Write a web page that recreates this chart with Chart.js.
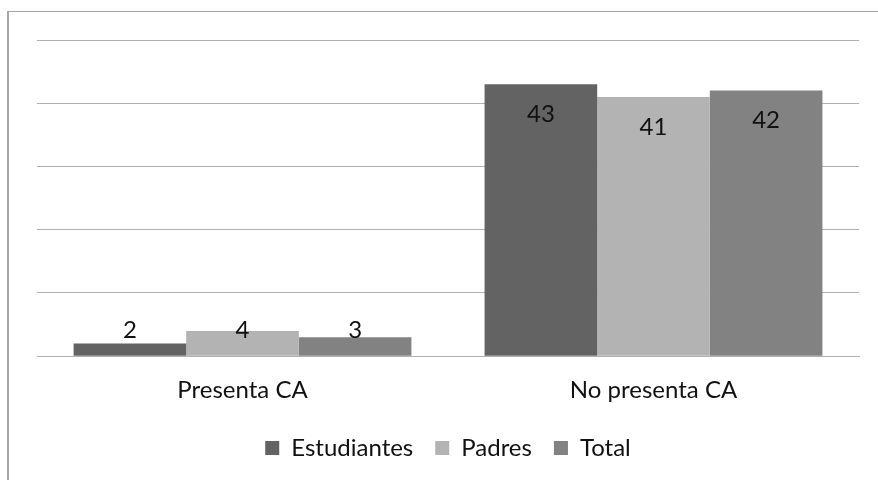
<!DOCTYPE html>
<html>
<head>
<meta charset="utf-8">
<script src="https://cdn.jsdelivr.net/npm/chart.js@4/dist/chart.umd.min.js"></script>
<style>
  html, body { margin: 0; padding: 0; background: #fff; }
  #wrap { position: relative; width: 878px; height: 480px; overflow: hidden; }
  #frame { position: absolute; left: 7px; top: 11px; width: 900px; height: 500px;
           border-left: 2px solid #a6a6a6; border-top: 1px solid #a6a6a6; }
  canvas { position: absolute; left: 0; top: 0; }
</style>
</head>
<body>
<div id="wrap">
  <div id="frame"></div>
  <canvas id="c" width="878" height="480"></canvas>
</div>
<script>
const categories = ['Presenta CA', 'No presenta CA'];
const seriesNames = ['Estudiantes', 'Padres', 'Total'];
const estudiantes = [2, 43];
const padres = [4, 41];
const total = [3, 42];
const seriesColors = ['#636363', '#b3b3b3', '#828282'];

const FONT = 'Lato, "Open Sans", sans-serif';
const FONT_SIZE = 24;

// value labels: inside the top of tall bars, held just above the baseline on short ones
const valueLabels = {
  id: 'valueLabels',
  afterDatasetsDraw(chart) {
    const ctx = chart.ctx;
    ctx.save();
    ctx.font = FONT_SIZE + 'px ' + FONT;
    ctx.fillStyle = '#111';
    ctx.textAlign = 'center';
    ctx.textBaseline = 'middle';
    chart.data.datasets.forEach((ds, i) => {
      chart.getDatasetMeta(i).data.forEach((bar, j) => {
        const y = Math.min(bar.y + 30, bar.base - 25);
        ctx.fillText(String(ds.data[j]), bar.x, y);
      });
    });
    ctx.restore();
  }
};

new Chart(document.getElementById('c'), {
  type: 'bar',
  data: {
    labels: categories,
    datasets: [
      { label: seriesNames[0], data: estudiantes, backgroundColor: seriesColors[0] },
      { label: seriesNames[1], data: padres, backgroundColor: seriesColors[1] },
      { label: seriesNames[2], data: total, backgroundColor: seriesColors[2] }
    ]
  },
  options: {
    responsive: false,
    animation: false,
    events: [],
    layout: { padding: { left: 37, right: 19, top: 40, bottom: 10 } },
    datasets: { bar: { categoryPercentage: 0.822, barPercentage: 1.0 } },
    scales: {
      x: {
        grid: { display: false, drawTicks: false },
        border: { display: true, color: '#b0b0b0', width: 1 },
        ticks: { color: '#111', font: { family: FONT, size: FONT_SIZE }, padding: 20 },
        afterFit(scale) { scale.height -= 11; }
      },
      y: {
        min: 0, max: 50,
        ticks: { display: false, stepSize: 10 },
        grid: { color: '#b0b0b0', drawTicks: false },
        border: { display: false },
        afterFit(scale) { scale.width = 0; }
      }
    },
    plugins: {
      tooltip: { enabled: false },
      legend: {
        position: 'bottom',
        labels: {
          color: '#111',
          font: { family: FONT, size: FONT_SIZE },
          boxWidth: 14, boxHeight: 14, padding: 22
        }
      }
    }
  },
  plugins: [valueLabels]
});
</script>
</body>
</html>
